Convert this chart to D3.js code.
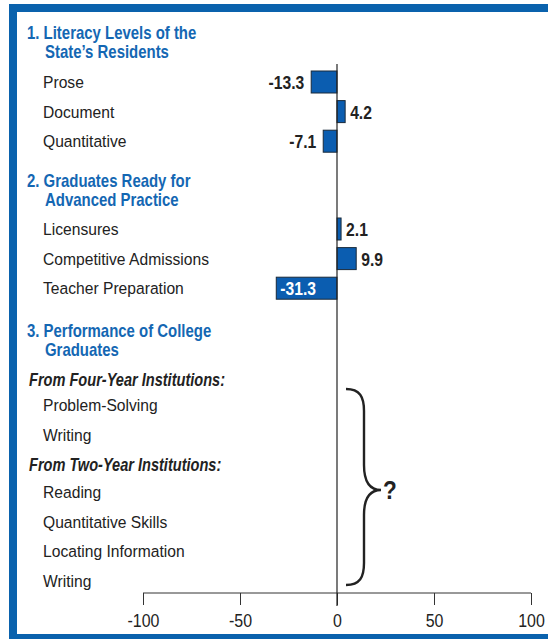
<!DOCTYPE html>
<html lang="en">
<head>
<meta charset="UTF-8" />
<title>Literacy chart</title>
<script src="https://cdn.jsdelivr.net/npm/d3@7"></script>
<style>
  body { margin: 0; background: #fff; }
  svg { display: block; }
  text { font-family: "Liberation Sans", Arial, sans-serif; }
  .lbl { font-size: 17px; fill: #222; }
  .hdr { font-size: 18px; font-weight: bold; fill: #1467b3; }
  .sub { font-size: 18px; font-weight: bold; font-style: italic; fill: #222; }
  .val { font-size: 18px; font-weight: bold; fill: #222; }
  .axis text { font-size: 19px; fill: #222; }
</style>
</head>
<body>
<script>
// section headings
var headings = [
  ["1. Literacy Levels of the", "State\u2019s Residents"],
  ["2. Graduates Ready for", "Advanced Practice"],
  ["3. Performance of College", "Graduates"]
];
var subheads = ["From Four-Year Institutions:", "From Two-Year Institutions:"];

// rows of the chart
var literacyCats = ["Prose", "Document", "Quantitative"];
var literacyVals = [-13.3, 4.2, -7.1];
var gradCats = ["Licensures", "Competitive Admissions", "Teacher Preparation"];
var gradVals = [2.1, 9.9, -31.3];
var fourYearCats = ["Problem-Solving", "Writing"];
var twoYearCats = ["Reading", "Quantitative Skills", "Locating Information", "Writing"];
var xTicks = [-100, -50, 0, 50, 100];

var w = 548, h = 639;
var svg = d3.select("body").append("svg").attr("width", w).attr("height", h);

// condensed look: squeeze text horizontally
function addText(x, y, str, cls, sx, anchor) {
  return svg.append("text")
    .attr("class", cls)
    .attr("transform", "translate(" + x + "," + y + ") scale(" + sx + ",1)")
    .attr("text-anchor", anchor || "start")
    .text(str);
}

// frame
var blue = "#0a62ad";
svg.append("rect").attr("x", 9).attr("y", 4).attr("width", w - 9).attr("height", 8).attr("fill", blue);
svg.append("rect").attr("x", 9).attr("y", 4).attr("width", 8).attr("height", h - 4).attr("fill", blue);
svg.append("rect").attr("x", 9).attr("y", 634).attr("width", w - 9).attr("height", 5).attr("fill", blue);

var x = d3.scaleLinear().domain([-100, 100]).range([143, 531]);

// each row: its label, value and vertical centre
var rows = [];
var rowStep = 29.6;
literacyCats.forEach(function(c, i) { rows.push({ label: c, value: literacyVals[i], y: 82 + i * rowStep }); });
gradCats.forEach(function(c, i) { rows.push({ label: c, value: gradVals[i], y: 229 + i * rowStep }); });
fourYearCats.forEach(function(c, i) { rows.push({ label: c, value: null, y: 405 + i * rowStep }); });
twoYearCats.forEach(function(c, i) { rows.push({ label: c, value: null, y: 492 + i * rowStep }); });

// headings
var headY = [33, 181, 331];
headings.forEach(function(lines, i) {
  addText(27, headY[i] + 6, lines[0], "hdr", 0.83);
  addText(45, headY[i] + 25, lines[1], "hdr", 0.83);
});
var subY = [380, 465];
subheads.forEach(function(s, i) {
  addText(29, subY[i] + 6, s, "sub", 0.81);
});

// row labels
rows.forEach(function(d) {
  addText(43, d.y + 6, d.label, "lbl", 0.92);
});

// bars
var barH = 22;
var bars = rows.filter(function(d) { return d.value !== null; });
svg.selectAll(".bar").data(bars).enter().append("rect")
  .attr("class", "bar")
  .attr("x", function(d) { return x(Math.min(0, d.value)); })
  .attr("y", function(d) { return d.y - barH / 2; })
  .attr("width", function(d) { return Math.abs(x(d.value) - x(0)); })
  .attr("height", barH)
  .attr("fill", "#0b5db0")
  .attr("stroke", "#1a2a3a")
  .attr("stroke-width", 1);

// value labels
bars.forEach(function(d) {
  if (d.value < -20) addText(x(d.value) + 4, d.y + 7, d.value.toFixed(1), "val", 0.87).style("fill", "#fff");
  else if (d.value < 0) addText(x(d.value) - 7, d.y + 7, d.value.toFixed(1), "val", 0.87, "end");
  else addText(x(d.value) + 5, d.y + 7, d.value.toFixed(1), "val", 0.87);
});

// axis
var axis = svg.append("g")
  .attr("class", "axis")
  .attr("transform", "translate(0,593)")
  .call(d3.axisBottom(x).tickValues(xTicks).tickSize(12).tickSizeOuter(0).tickPadding(9)
    .tickFormat(function(d) { return String(d); }));
axis.select(".domain").attr("stroke", "#333").attr("d", "M" + x(-100) + ",0H" + x(100));
axis.selectAll(".tick line").attr("stroke", "#333");
axis.selectAll(".tick text").attr("transform", "scale(0.84,1)");

// zero line
svg.append("line")
  .attr("x1", x(0)).attr("x2", x(0))
  .attr("y1", 64).attr("y2", 606)
  .attr("stroke", "#222").attr("stroke-width", 1.2);

// brace marking the missing data
var bx = 346, bTop = 389, bMid = 490, bBot = 585, bTip = 381;
var brace = "M" + bx + "," + bTop +
  " C" + (bx + 14) + "," + bTop + " " + (bx + 18) + "," + (bTop + 8) + " " + (bx + 18) + "," + (bTop + 22) +
  " L" + (bx + 18) + "," + (bMid - 25) +
  " C" + (bx + 18) + "," + (bMid - 8) + " " + (bx + 24) + "," + bMid + " " + bTip + "," + bMid +
  " C" + (bx + 24) + "," + bMid + " " + (bx + 18) + "," + (bMid + 8) + " " + (bx + 18) + "," + (bMid + 25) +
  " L" + (bx + 18) + "," + (bBot - 22) +
  " C" + (bx + 18) + "," + (bBot - 8) + " " + (bx + 14) + "," + bBot + " " + bx + "," + bBot;
svg.append("path").attr("d", brace).attr("fill", "none").attr("stroke", "#222").attr("stroke-width", 2.4);
addText(bTip + 2, bMid + 9, "?", "val", 0.9).style("font-size", "25px");
</script>
</body>
</html>
